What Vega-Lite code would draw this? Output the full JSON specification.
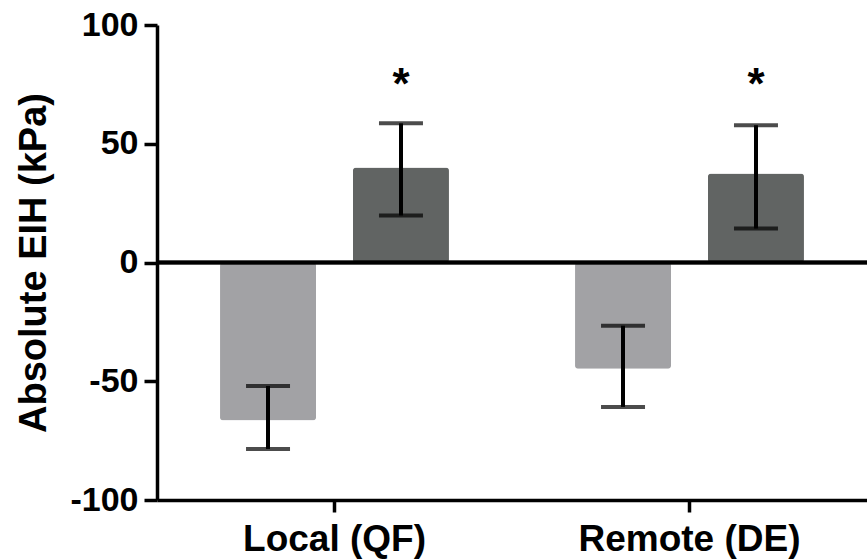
{
  "$schema": "https://vega.github.io/schema/vega-lite/v6.json",
  "autosize": "none",
  "padding": {"left": 157, "top": 25, "right": 0, "bottom": 60},
  "width": 710,
  "height": 475,
  "background": "white",
  "config": {
    "view": {"stroke": null},
    "font": "Liberation Sans"
  },
  "data": {
    "values": [
      {"site": "Local (QF)", "cond": "A", "value": -66.5, "lo": -78.5, "hi": -52, "star": null},
      {"site": "Local (QF)", "cond": "B", "value": 40, "lo": 19.8, "hi": 58.6, "star": "*"},
      {"site": "Remote (DE)", "cond": "A", "value": -44.7, "lo": -60.8, "hi": -26.6, "star": null},
      {"site": "Remote (DE)", "cond": "B", "value": 37.5, "lo": 14.3, "hi": 57.8, "star": "*"}
    ]
  },
  "encoding": {
    "x": {
      "field": "site",
      "type": "nominal",
      "sort": null,
      "scale": {"paddingInner": 0, "paddingOuter": 0},
      "axis": {
        "title": null,
        "labelAngle": 0,
        "labelFont": "Liberation Sans",
        "labelFontSize": 37,
        "labelFontWeight": "bold",
        "labelColor": "black",
        "labelPadding": 9,
        "labelLimit": 0,
        "domainColor": "black",
        "domainWidth": 3.5,
        "tickColor": "black",
        "tickWidth": 3.5,
        "tickSize": 12,
        "grid": false
      }
    },
    "xOffset": {
      "field": "cond",
      "type": "nominal",
      "scale": {"paddingInner": 0.278, "paddingOuter": 0.474}
    }
  },
  "layer": [
    {
      "mark": {"type": "bar", "cornerRadius": 3},
      "encoding": {
        "y": {
          "field": "value",
          "type": "quantitative",
          "scale": {"domain": [-100, 100], "nice": false, "zero": true},
          "axis": {
            "title": "Absolute EIH (kPa)",
            "titleFont": "Liberation Sans",
            "titleFontSize": 38,
            "titleFontWeight": "bold",
            "titleColor": "black",
            "titlePadding": 16,
            "values": [-100, -50, 0, 50, 100],
            "labelExpr": "datum.value < 0 ? '-' + abs(datum.value) : '' + datum.value",
            "labelFont": "Liberation Sans",
            "labelFontSize": 34,
            "labelFontWeight": "bold",
            "labelColor": "black",
            "labelPadding": 6,
            "domainColor": "black",
            "domainWidth": 3.5,
            "tickColor": "black",
            "tickWidth": 3.5,
            "tickSize": 13,
            "grid": false
          }
        },
        "color": {
          "field": "cond",
          "type": "nominal",
          "scale": {"domain": ["A", "B"], "range": ["#a2a2a5", "#616463"]},
          "legend": null
        }
      }
    },
    {
      "mark": {"type": "rule", "color": "black", "strokeWidth": 4},
      "encoding": {
        "y": {"field": "lo", "type": "quantitative"},
        "y2": {"field": "hi"}
      }
    },
    {
      "mark": {"type": "tick", "color": "black", "thickness": 4, "size": 44, "orient": "horizontal"},
      "encoding": {
        "y": {"field": "lo", "type": "quantitative"}
      }
    },
    {
      "mark": {"type": "tick", "color": "black", "thickness": 4, "size": 44, "orient": "horizontal"},
      "encoding": {
        "y": {"field": "hi", "type": "quantitative"}
      }
    },
    {
      "mark": {"type": "text", "font": "Liberation Sans", "fontSize": 44, "fontWeight": "bold", "color": "black", "baseline": "middle", "dy": 9},
      "transform": [{"filter": "datum.star != null"}],
      "encoding": {
        "y": {"datum": 78},
        "text": {"field": "star"}
      }
    },
    {
      "mark": {"type": "rule", "color": "black", "strokeWidth": 3.5},
      "encoding": {
        "x": {"value": 0},
        "x2": {"value": 710},
        "xOffset": null,
        "y": {"datum": 0}
      }
    }
  ]
}
